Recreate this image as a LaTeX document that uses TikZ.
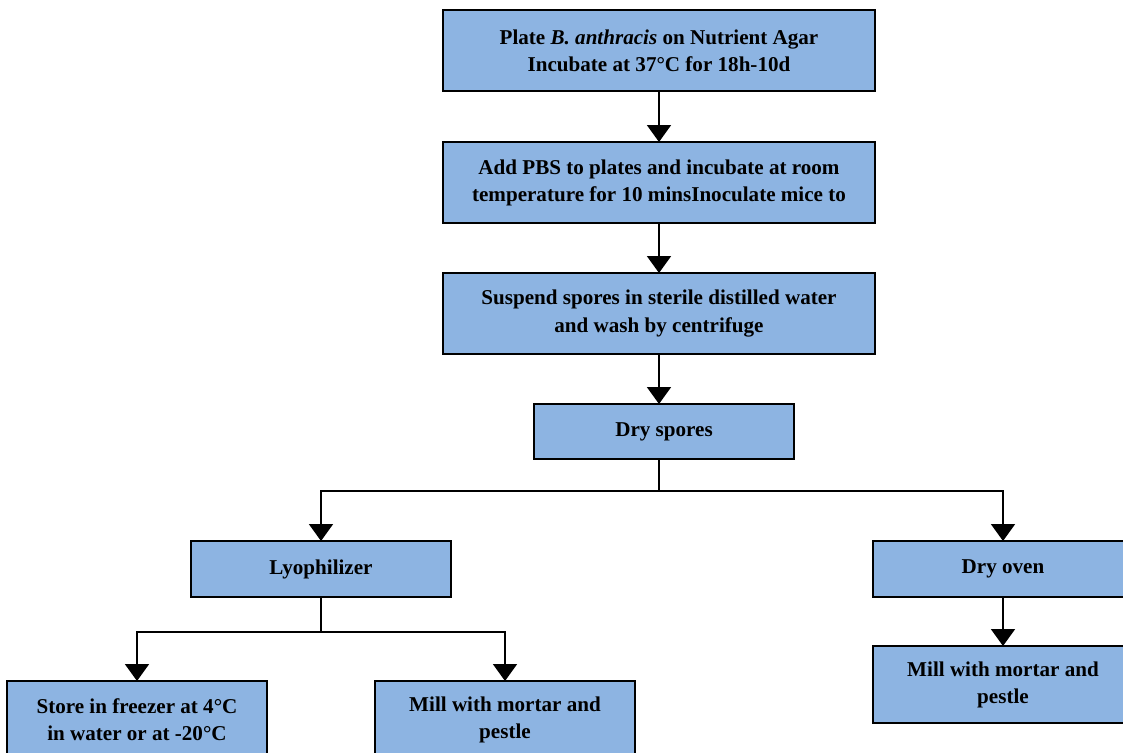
\documentclass[tikz,border=0pt]{standalone}
\usepackage{fontspec}
\setmainfont{Liberation Serif}
\usetikzlibrary{positioning,arrows.meta}
\definecolor{boxblue}{RGB}{141,180,226}
\tikzstyle{block} = [rectangle, draw, line width=1.3pt, outer sep=0pt, fill=boxblue, 
    align=center, font=\bfseries\fontsize{12}{15.4}\selectfont, minimum width=8.64cm, minimum height=1.62cm]
\tikzstyle{small block} = [block, minimum width=5.2cm, minimum height=1.12cm]
\tikzstyle{line} = [draw, line width=1.1pt, -{Triangle[width=0.48cm,length=0.34cm]}]

\begin{document}
\begin{tikzpicture}[node distance=1cm, auto]
		\useasboundingbox (0,0) rectangle (22.46,-15.04);
		\node [block] at (13.18,-1.01) (plate) {Plate \textit{B. anthracis} on Nutrient Agar\\Incubate at 37°C for 18h-10d};
		\node [block, below=1.02cm of plate] (pbs) {Add PBS to plates and incubate at room\\temperature for 10 minsInoculate mice to};
		\node [block, below=1cm of pbs] (wash) {Suspend spores in sterile distilled water\\and wash by centrifuge};
		\node [small block, minimum height=1.1cm, below=1cm of wash, xshift=0.1cm] (dry) {Dry spores};
		\node [small block, below=1.64cm of dry, xshift=-6.86cm] (lyo) {Lyophilizer};
		\node [small block, below=1.64cm of dry, xshift=6.78cm] (oven) {Dry oven};
		\node [small block, minimum height=1.56cm, below=1.68cm of lyo, xshift=-3.68cm] (store) {Store in freezer at 4°C\\in water or at -20°C};
		\node [small block, minimum height=1.56cm, below=1.68cm of lyo, xshift=3.68cm] (millA) {Mill with mortar and\\pestle};
		\node [small block, minimum height=1.54cm, below=0.98cm of oven] (millB) {Mill with mortar and\\pestle};
		
		\path [line] (plate) -- (pbs);
		\path [line] (pbs) -- (wash);
		\path [line] (wash) -- (wash |- dry.north);
		\path [line] (wash |- dry.south) -- ++(0,-0.64) -| (lyo.north);
		\path [line] (wash |- dry.south) -- ++(0,-0.64) -| (oven.north);
		\path [line] (lyo.south) -- ++(0,-0.7) -| (store.north);
		\path [line] (lyo.south) -- ++(0,-0.7) -| (millA.north);
		\path [line] (oven) -- (millB);
	\end{tikzpicture}
\end{document}
